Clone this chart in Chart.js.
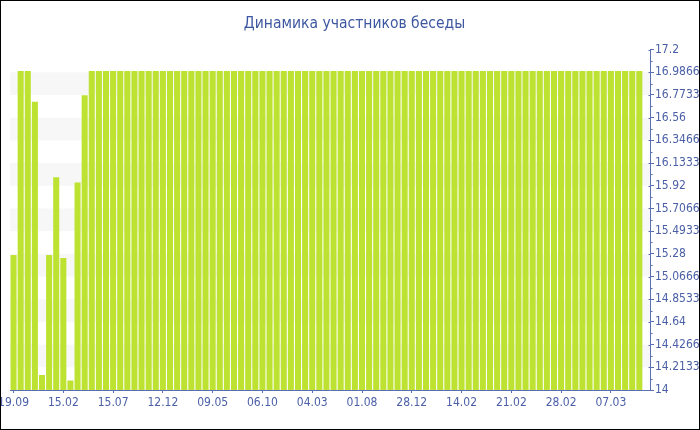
<!DOCTYPE html>
<html>
<head>
<meta charset="utf-8">
<script src="https://cdn.jsdelivr.net/npm/chart.js@4.4.1/dist/chart.umd.min.js"></script>
<style>
  html, body { margin: 0; padding: 0; background: #fff; }
  #wrap { position: relative; width: 700px; height: 430px; box-sizing: border-box; border: 1px solid #000; overflow: hidden; }
  canvas { display: block; }
</style>
</head>
<body>
<div id="wrap"><canvas id="c" width="698" height="428"></canvas></div>
<script>
const chartTitle = 'Динамика участников беседы';
const xTickLabels = ['19.09','15.02','15.07','12.12','09.05','06.10','04.03','01.08','28.12','14.02','21.02','28.02','07.03'];
const barValues = [
  15.27, 17, 17, 16.71, 14.14, 15.27, 16.0, 15.24, 14.09, 15.95, 16.77,
  17, 17, 17, 17, 17, 17, 17, 17, 17, 17,
  17, 17, 17, 17, 17, 17, 17, 17, 17, 17,
  17, 17, 17, 17, 17, 17, 17, 17, 17, 17,
  17, 17, 17, 17, 17, 17, 17, 17, 17, 17,
  17, 17, 17, 17, 17, 17, 17, 17, 17, 17,
  17, 17, 17, 17, 17, 17, 17, 17, 17, 17,
  17, 17, 17, 17, 17, 17, 17, 17, 17, 17,
  17, 17, 17, 17, 17, 17, 17, 17,
  null
];
const yTickValues = [14, 14.21333, 14.42667, 14.64, 14.85333, 15.06667, 15.28, 15.49333, 15.70667, 15.92, 16.13333, 16.34667, 16.56, 16.77333, 16.98667, 17.2];
const yTickLabels = ['14','14.2133','14.4266','14.64','14.8533','15.0666','15.28','15.4933','15.7066','15.92','16.1333','16.3466','16.56','16.7733','16.9866','17.2'];
const labelEvery = 7;

const categories = barValues.map((v, i) => (i % labelEvery === 0 && xTickLabels[i / labelEvery]) ? xTickLabels[i / labelEvery] : '');

const axisColor = '#5b6fb3';
const textColor = '#4a5fa6';
const fontFamily = "'DejaVu Sans Condensed', 'DejaVu Sans', sans-serif";

const bandsPlugin = {
  id: 'bands',
  beforeDatasetsDraw(chart) {
    const {ctx, chartArea, scales} = chart;
    const y = scales.y;
    ctx.save();
    ctx.fillStyle = '#f7f7f7';
    for (let i = 1; i < yTickValues.length - 1; i += 2) {
      const y1 = y.getPixelForValue(yTickValues[i + 1]);
      const y0 = y.getPixelForValue(yTickValues[i]);
      ctx.fillRect(chartArea.left, y1, chartArea.right - chartArea.left, y0 - y1);
    }
    ctx.restore();
  }
};

const minorTicksPlugin = {
  id: 'minorTicks',
  afterDraw(chart) {
    const {ctx, chartArea, scales} = chart;
    const y = scales.y;
    const x0 = Math.round(chartArea.right) + 0.5;
    ctx.save();
    ctx.strokeStyle = axisColor;
    ctx.lineWidth = 1;
    ctx.beginPath();
    for (let i = 0; i < yTickValues.length; i++) {
      const p = Math.round(y.getPixelForValue(yTickValues[i])) + 0.5;
      ctx.moveTo(x0 - 2, p); ctx.lineTo(x0, p);
      if (i < yTickValues.length - 1) {
        const m = Math.round(y.getPixelForValue((yTickValues[i] + yTickValues[i + 1]) / 2)) + 0.5;
        ctx.moveTo(x0, m); ctx.lineTo(x0 + 2, m);
      }
    }
    ctx.stroke();
    ctx.restore();
  }
};

new Chart(document.getElementById('c'), {
  type: 'bar',
  data: {
    labels: categories,
    datasets: [{
      data: barValues,
      backgroundColor: '#bde232',
      borderWidth: 0,
      barPercentage: 0.85,
      categoryPercentage: 1.0
    }]
  },
  options: {
    responsive: false,
    animation: false,
    layout: { padding: { left: 9, top: 3, right: 0, bottom: 0 } },
    plugins: {
      legend: { display: false },
      tooltip: { enabled: false },
      title: {
        display: true,
        text: chartTitle,
        color: '#3d58a0',
        font: { family: fontFamily, size: 15.5, weight: 'normal', lineHeight: 1.2 },
        padding: { top: 11, bottom: 16 }
      }
    },
    scales: {
      x: {
        type: 'category',
        offset: true,
        grid: {
          display: true,
          drawOnChartArea: false,
          drawTicks: true,
          offset: false,
          tickLength: 3,
          tickColor: (c) => (c.index % labelEvery === 0 && c.index / labelEvery < xTickLabels.length) ? axisColor : 'rgba(0,0,0,0)'
        },
        border: { display: true, color: axisColor, width: 1 },
        ticks: {
          autoSkip: false,
          maxRotation: 0,
          minRotation: 0,
          padding: 3,
          color: textColor,
          font: { family: fontFamily, size: 12 }
        },
        afterFit(scale) { scale.paddingLeft = 0; scale.paddingRight = 0; scale.height = 39; }
      },
      y: {
        type: 'linear',
        position: 'right',
        min: 14,
        max: 17.2,
        grid: {
          display: true,
          drawOnChartArea: false,
          drawTicks: true,
          tickLength: 4,
          tickColor: axisColor
        },
        border: { display: true, color: axisColor, width: 1 },
        afterBuildTicks(scale) { scale.ticks = yTickValues.map(v => ({ value: v })); },
        ticks: {
          padding: 1,
          color: textColor,
          font: { family: fontFamily, size: 12 },
          callback: (v, i) => yTickLabels[i]
        },
        afterFit(scale) { scale.width = 49; scale.paddingTop = 0; scale.paddingBottom = 0; }
      }
    }
  },
  plugins: [bandsPlugin, minorTicksPlugin]
});
</script>
</body>
</html>
